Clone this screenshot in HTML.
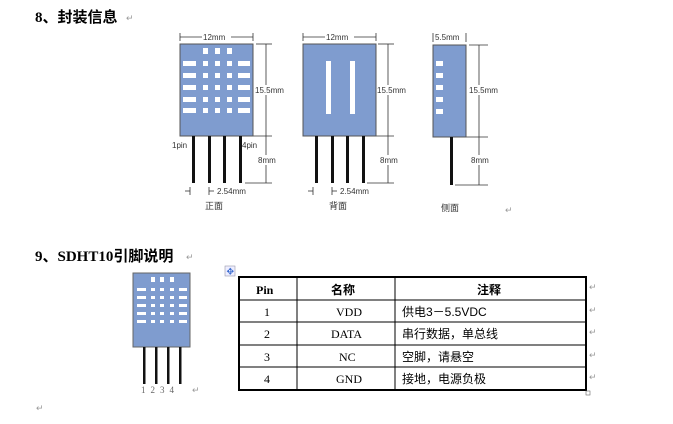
<!DOCTYPE html>
<html><head><meta charset="utf-8"><style>
body{margin:0;background:#fff;width:673px;height:424px;overflow:hidden}
svg{display:block}
.t{font-family:"Liberation Sans","Noto Sans CJK SC",sans-serif;font-size:8px;fill:#333}
.h{font-family:"Liberation Serif","Noto Sans CJK SC",sans-serif;font-size:15px;font-weight:bold;fill:#000}
.c{font-family:"Liberation Serif","Noto Serif CJK SC",serif;font-size:12px;fill:#000}
.cz{font-family:"Liberation Sans","Noto Sans CJK SC",sans-serif;font-size:12px;fill:#000}
.r{font-size:9px;fill:#999;font-family:"Liberation Sans",sans-serif}
</style></head><body>
<svg width="673" height="424" viewBox="0 0 673 424">
<text x="35" y="22" class="h">8、封装信息</text>
<text x="126" y="21" class="r">↵</text>
<g stroke="#333" stroke-width="0.8" fill="none">
<!-- front dims -->
<line x1="180" y1="37" x2="253" y2="37"/><line x1="180" y1="33" x2="180" y2="41"/><line x1="253" y1="33" x2="253" y2="41"/>
<line x1="266" y1="44" x2="266" y2="183"/><line x1="256" y1="44" x2="272" y2="44"/><line x1="245" y1="136" x2="272" y2="136"/><line x1="245" y1="183" x2="272" y2="183"/>
<!-- back dims -->
<line x1="303" y1="37" x2="376" y2="37"/><line x1="303" y1="33" x2="303" y2="41"/><line x1="376" y1="33" x2="376" y2="41"/>
<line x1="388" y1="44" x2="388" y2="183"/><line x1="378" y1="44" x2="394" y2="44"/><line x1="367" y1="136" x2="394" y2="136"/><line x1="367" y1="183" x2="394" y2="183"/>
<!-- side dims -->
<line x1="433" y1="33" x2="433" y2="42"/><line x1="466" y1="33" x2="466" y2="42"/>
<line x1="479" y1="45" x2="479" y2="185"/><line x1="469" y1="45" x2="488" y2="45"/><line x1="455" y1="137" x2="488" y2="137"/><line x1="455" y1="185" x2="488" y2="185"/>
<!-- pitch -->
<line x1="190" y1="187" x2="190" y2="195"/><line x1="185" y1="191" x2="190" y2="191"/>
<line x1="209" y1="187" x2="209" y2="195"/><line x1="209" y1="191" x2="214" y2="191"/>
<line x1="313" y1="187" x2="313" y2="195"/><line x1="308" y1="191" x2="313" y2="191"/>
<line x1="332" y1="187" x2="332" y2="195"/><line x1="332" y1="191" x2="337" y2="191"/>
</g>
<g class="t">
<rect x="202" y="33" width="29" height="8" fill="#fff"/><text x="203" y="40">12mm</text>
<rect x="325" y="33" width="29" height="8" fill="#fff"/><text x="326" y="40">12mm</text>
<text x="435" y="40">5.5mm</text>
<rect x="255" y="85" width="32" height="10" fill="#fff"/><text x="255" y="93">15.5mm</text>
<rect x="377" y="85" width="32" height="10" fill="#fff"/><text x="377" y="93">15.5mm</text>
<rect x="469" y="85" width="32" height="10" fill="#fff"/><text x="469" y="93">15.5mm</text>
<rect x="257" y="155" width="20" height="10" fill="#fff"/><text x="258" y="163">8mm</text>
<rect x="379" y="155" width="20" height="10" fill="#fff"/><text x="380" y="163">8mm</text>
<rect x="470" y="155" width="20" height="10" fill="#fff"/><text x="471" y="163">8mm</text>
<text x="172" y="148">1pin</text><text x="242" y="148">4pin</text>
<text x="217" y="194">2.54mm</text><text x="340" y="194">2.54mm</text>
<text x="205" y="209" font-size="9">正面</text><text x="329" y="209" font-size="9">背面</text><text x="441" y="211" font-size="9">侧面</text>
</g>
<text x="505" y="213" class="r">↵</text>
<!-- front body -->
<rect x="180" y="44" width="73" height="92" fill="#7f9ccf" stroke="#555" stroke-width="1"/>
<g fill="#fff">
<rect x="203" y="48" width="5" height="6"/><rect x="215" y="48" width="5" height="6"/><rect x="227" y="48" width="5" height="6"/>
<g id="row"><rect x="183" y="61" width="13" height="5"/><rect x="203" y="61" width="5" height="5"/><rect x="215" y="61" width="5" height="5"/><rect x="227" y="61" width="5" height="5"/><rect x="238" y="61" width="12" height="5"/></g>
<use href="#row" y="12"/><use href="#row" y="24"/><use href="#row" y="36"/><use href="#row" y="47"/>
</g>
<g fill="#111"><rect x="192" y="136" width="3" height="47"/><rect x="208" y="136" width="3" height="47"/><rect x="223" y="136" width="3" height="47"/><rect x="239" y="136" width="3" height="47"/></g>
<!-- back -->
<rect x="303" y="44" width="73" height="92" fill="#7f9ccf" stroke="#555" stroke-width="1"/>
<rect x="326" y="61" width="5" height="53" fill="#fff"/><rect x="350" y="61" width="5" height="53" fill="#fff"/>
<g fill="#111"><rect x="315" y="136" width="3" height="47"/><rect x="331" y="136" width="3" height="47"/><rect x="346" y="136" width="3" height="47"/><rect x="362" y="136" width="3" height="47"/></g>
<!-- side -->
<rect x="433" y="45" width="33" height="92" fill="#7f9ccf" stroke="#555" stroke-width="1"/>
<g fill="#fff"><rect x="436" y="61" width="7" height="5"/><rect x="436" y="73" width="7" height="5"/><rect x="436" y="85" width="7" height="5"/><rect x="436" y="97" width="7" height="5"/><rect x="436" y="109" width="7" height="5"/></g>
<rect x="450" y="137" width="3" height="48" fill="#111"/>

<text x="35" y="261" class="h">9、SDHT10引脚说明</text>
<text x="186" y="260" class="r">↵</text>
<!-- bottom chip -->
<rect x="133" y="273" width="57" height="74" fill="#7f9ccf" stroke="#666" stroke-width="1"/>
<g fill="#fff">
<rect x="151" y="277" width="4" height="5"/><rect x="160" y="277" width="4" height="5"/><rect x="170" y="277" width="4" height="5"/>
<g id="r2"><rect x="137" y="288" width="9" height="3"/><rect x="151" y="288" width="4" height="3"/><rect x="160" y="288" width="4" height="3"/><rect x="170" y="288" width="4" height="3"/><rect x="179" y="288" width="8" height="3"/></g>
<use href="#r2" y="8"/><use href="#r2" y="16"/><use href="#r2" y="24"/><use href="#r2" y="32"/>
</g>
<g fill="#111"><rect x="143" y="347" width="2.5" height="37"/><rect x="155" y="347" width="2.5" height="37"/><rect x="167" y="347" width="2.5" height="37"/><rect x="179" y="347" width="2.5" height="37"/></g>
<text x="141" y="393" font-size="9" fill="#666" font-family="Liberation Serif,serif" letter-spacing="5">1234</text>
<text x="192" y="393" class="r">↵</text>
<text x="36" y="411" class="r">↵</text>
<!-- table anchor -->
<rect x="225" y="266" width="10" height="10" fill="#eef" stroke="#99a" stroke-width="0.6"/>
<text x="226.5" y="274.5" font-size="9" fill="#36c">✥</text>
<!-- table -->
<g stroke="#000" fill="none">
<rect x="239" y="277" width="347" height="113" stroke-width="2"/>
<line x1="239" y1="300" x2="586" y2="300" stroke-width="1"/>
<line x1="239" y1="322" x2="586" y2="322"/><line x1="239" y1="345" x2="586" y2="345"/><line x1="239" y1="367" x2="586" y2="367"/>
<line x1="297" y1="277" x2="297" y2="390"/><line x1="395" y1="277" x2="395" y2="390"/>
</g>
<text x="256" y="294" class="c" font-weight="bold" font-family="Liberation Mono,monospace">Pin</text>
<text x="331" y="294" class="cz" font-weight="bold" font-size="13">名称</text>
<text x="477" y="294" class="cz" font-weight="bold" font-size="13">注释</text>
<g class="c"><text x="264" y="316">1</text><text x="264" y="338">2</text><text x="264" y="361">3</text><text x="264" y="383">4</text>
<text x="336" y="316">VDD</text><text x="331" y="338">DATA</text><text x="339" y="361">NC</text><text x="336" y="383">GND</text></g>
<g class="cz"><text x="402" y="316">供电3－5.5VDC</text><text x="402" y="338">串行数据，单总线</text><text x="402" y="361">空脚，请悬空</text><text x="402" y="383">接地，电源负极</text></g>
<g class="r"><text x="589" y="290">↵</text><text x="589" y="313">↵</text><text x="589" y="335">↵</text><text x="589" y="358">↵</text><text x="589" y="380">↵</text></g>
<rect x="586" y="391" width="4" height="4" fill="none" stroke="#666" stroke-width="0.6"/>
</svg>
</body></html>
